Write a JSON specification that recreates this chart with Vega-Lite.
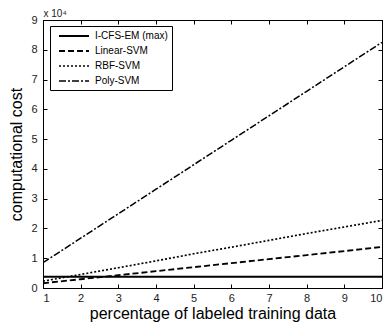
{
  "$schema": "https://vega.github.io/schema/vega-lite/v6.json",
  "width": 339,
  "height": 268,
  "autosize": {"type": "none"},
  "padding": {"left": 43, "top": 20, "right": 4, "bottom": 37},
  "background": "white",
  "data": {"values": [
    {"series": "I-CFS-EM (max)", "x": 1, "y": 3800},
    {"series": "I-CFS-EM (max)", "x": 10, "y": 3800},
    {"series": "Linear-SVM", "x": 1, "y": 1600},
    {"series": "Linear-SVM", "x": 2, "y": 2950},
    {"series": "Linear-SVM", "x": 3, "y": 4300},
    {"series": "Linear-SVM", "x": 4, "y": 5650},
    {"series": "Linear-SVM", "x": 5, "y": 7000},
    {"series": "Linear-SVM", "x": 6, "y": 8350},
    {"series": "Linear-SVM", "x": 7, "y": 9700},
    {"series": "Linear-SVM", "x": 8, "y": 11050},
    {"series": "Linear-SVM", "x": 9, "y": 12400},
    {"series": "Linear-SVM", "x": 10, "y": 13800},
    {"series": "RBF-SVM", "x": 1, "y": 2300},
    {"series": "RBF-SVM", "x": 2, "y": 4550},
    {"series": "RBF-SVM", "x": 3, "y": 6800},
    {"series": "RBF-SVM", "x": 4, "y": 9100},
    {"series": "RBF-SVM", "x": 5, "y": 11500},
    {"series": "RBF-SVM", "x": 6, "y": 13700},
    {"series": "RBF-SVM", "x": 7, "y": 16000},
    {"series": "RBF-SVM", "x": 8, "y": 18300},
    {"series": "RBF-SVM", "x": 9, "y": 20500},
    {"series": "RBF-SVM", "x": 10, "y": 22700},
    {"series": "Poly-SVM", "x": 1, "y": 8500},
    {"series": "Poly-SVM", "x": 2, "y": 16720},
    {"series": "Poly-SVM", "x": 3, "y": 24940},
    {"series": "Poly-SVM", "x": 4, "y": 33170},
    {"series": "Poly-SVM", "x": 5, "y": 41390},
    {"series": "Poly-SVM", "x": 6, "y": 49610},
    {"series": "Poly-SVM", "x": 7, "y": 57830},
    {"series": "Poly-SVM", "x": 8, "y": 66060},
    {"series": "Poly-SVM", "x": 9, "y": 74280},
    {"series": "Poly-SVM", "x": 10, "y": 82500}
  ]},
  "layer": [
    {
      "mark": {"type": "line", "color": "black", "clip": true},
      "encoding": {
        "x": {"field": "x", "type": "quantitative", "scale": {"domain": [1, 10], "nice": false, "zero": false},
          "axis": {"orient": "bottom", "values": [1,2,3,4,5,6,7,8,9,10], "title": "percentage of labeled training data", "grid": false}},
        "y": {"field": "y", "type": "quantitative", "scale": {"domain": [0, 90000], "nice": false},
          "axis": {"orient": "left", "values": [0,10000,20000,30000,40000,50000,60000,70000,80000,90000], "labelExpr": "datum.value / 10000", "title": "computational cost", "grid": false}},
        "detail": {"field": "series"},
        "strokeDash": {"field": "series", "type": "nominal",
          "scale": {"domain": ["I-CFS-EM (max)", "Linear-SVM", "RBF-SVM", "Poly-SVM"], "range": [[1, 0], [6, 3], [2, 2], [7, 2, 2, 2]]},
          "legend": {"title": null}},
        "strokeWidth": {"field": "series", "type": "nominal",
          "scale": {"domain": ["I-CFS-EM (max)", "Linear-SVM", "RBF-SVM", "Poly-SVM"], "range": [2, 1.5, 1.5, 1.5]},
          "legend": {"title": null}}
      }
    },
    {
      "mark": {"type": "point", "opacity": 0},
      "encoding": {
        "x": {"field": "x", "type": "quantitative",
          "axis": {"orient": "top", "values": [1,2,3,4,5,6,7,8,9,10], "labels": false, "title": "x 10⁴", "titleAnchor": "start", "titleAlign": "left", "titleFontSize": 10, "titleColor": "#222", "titlePadding": 1, "grid": false, "domain": true}},
        "y": {"field": "y", "type": "quantitative",
          "axis": {"orient": "right", "values": [0,10000,20000,30000,40000,50000,60000,70000,80000,90000], "labels": false, "title": null, "grid": false}}
      }
    }
  ],
  "resolve": {"axis": {"x": "independent", "y": "independent"}},
  "config": {
    "view": {"stroke": "black", "strokeWidth": 1},
    "font": "Liberation Sans",
    "axis": {
      "domainColor": "black",
      "domainWidth": 1,
      "tickColor": "black",
      "tickSize": -4,
      "tickWidth": 1,
      "labelFont": "Liberation Sans",
      "labelFontSize": 11,
      "labelColor": "#222",
      "labelPadding": 8,
      "titleFont": "Liberation Sans",
      "titleFontSize": 16,
      "titleFontWeight": "normal",
      "titleColor": "black"
    },
    "axisBottom": {"titlePadding": 2},
    "axisLeft": {"titlePadding": 6, "labelPadding": 10},
    "legend": {
      "orient": "none",
      "legendX": 7,
      "legendY": 6,
      "strokeColor": "black",
      "fillColor": "white",
      "padding": 4,
      "symbolType": "M-3,0H3",
      "symbolSize": 100,
      "symbolOffset": 14,
      "symbolStrokeColor": "black",
      "symbolStrokeWidth": 1.5,
      "labelFont": "Liberation Sans",
      "labelFontSize": 10,
      "labelColor": "black",
      "labelOffset": 15,
      "rowPadding": 4
    }
  }
}
